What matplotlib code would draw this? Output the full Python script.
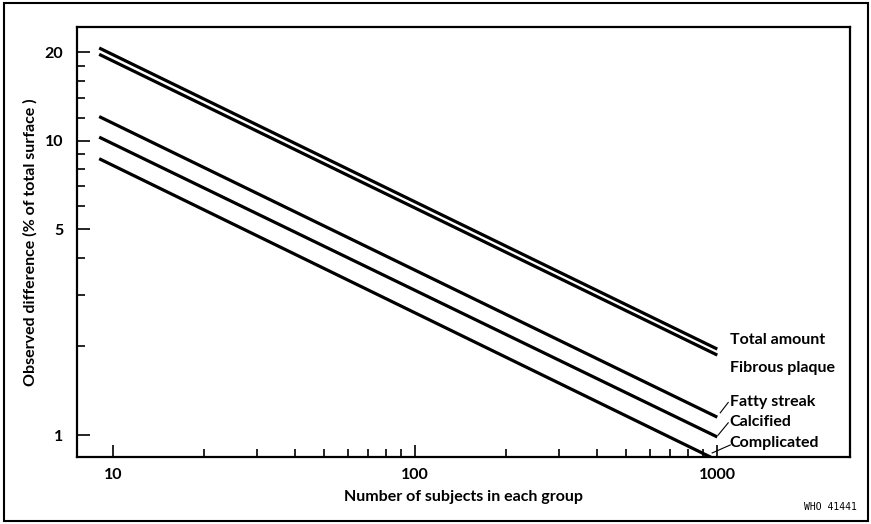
import matplotlib
matplotlib.use("Agg")
import matplotlib.pyplot as plt
from matplotlib.patches import Rectangle
from matplotlib.ticker import FixedLocator, NullFormatter

plt.rcParams['font.family'] = ['Lato', 'DejaVu Sans']
plt.rcParams['font.weight'] = 'bold'
plt.rcParams['axes.labelweight'] = 'bold'

# end points (log-log straight lines)
n_subjects = [9, 1000]
total_amount = [20.7, 1.96]
fibrous_plaque = [19.7, 1.87]
fatty_streak = [12.1, 1.15]
calcified = [10.3, 0.985]
complicated = [8.7, 0.82]

series = [
    ("Total amount", total_amount),
    ("Fibrous plaque", fibrous_plaque),
    ("Fatty streak", fatty_streak),
    ("Calcified", calcified),
    ("Complicated", complicated),
]
label_y = [2.10, 1.69, 1.29, 1.11, 0.94]

y_major = [1, 5, 10, 20]
y_minor = [2, 3, 4, 6, 7, 8, 9, 12, 14, 16, 18]
x_major = [10, 100, 1000]
x_minor = [20, 30, 40, 50, 60, 70, 80, 90,
           200, 300, 400, 500, 600, 700, 800, 900]

fig = plt.figure(figsize=(8.71, 5.24), dpi=100)
ax = fig.add_axes([0.0884, 0.1279, 0.8875, 0.8206])

for name, vals in series:
    ax.plot(n_subjects, vals, color='black', lw=2.3, solid_capstyle='butt')

ax.set_xscale('log')
ax.set_yscale('log')
ax.set_xlim(7.6, 2750)
ax.set_ylim(0.842, 24.4)

ax.xaxis.set_major_locator(FixedLocator(x_major))
ax.xaxis.set_minor_locator(FixedLocator(x_minor))
ax.yaxis.set_major_locator(FixedLocator(y_major))
ax.yaxis.set_minor_locator(FixedLocator(y_minor))
ax.set_xticklabels([str(v) for v in x_major])
ax.set_yticklabels([str(v) for v in y_major])
ax.xaxis.set_minor_formatter(NullFormatter())
ax.yaxis.set_minor_formatter(NullFormatter())

ax.tick_params(which='both', direction='in', width=1.2, labelsize=11.5, pad=8)
ax.tick_params(which='major', length=9)
ax.tick_params(which='minor', length=6)
ax.tick_params(axis='y', which='major', pad=10)

for sp in ax.spines.values():
    sp.set_linewidth(1.6)

ax.set_xlabel("Number of subjects in each group", fontsize=11.5, labelpad=6)
ax.set_ylabel("Observed difference (% of total surface )", fontsize=11.5, labelpad=5)

for (name, vals), ly in zip(series, label_y):
    ax.text(1100, ly, name, fontsize=11.5, va='center', ha='left')

# small leader strokes to the lower three lines
ax.plot([1087, 1023], [1.29, 1.19], color='black', lw=0.8)
ax.plot([1087, 1007], [1.10, 1.00], color='black', lw=0.8)
ax.plot([1104, 962], [0.925, 0.869], color='black', lw=0.8)

fig.text(0.984, 0.032, "WHO 41441", fontsize=7, family='DejaVu Sans Mono',
         weight='normal', ha='right', va='center')

fig.patches.append(Rectangle((0.005, 0.006), 0.992, 0.988, transform=fig.transFigure,
                             fill=False, lw=1.5, edgecolor='black'))

fig.savefig("out.png", dpi=100)
